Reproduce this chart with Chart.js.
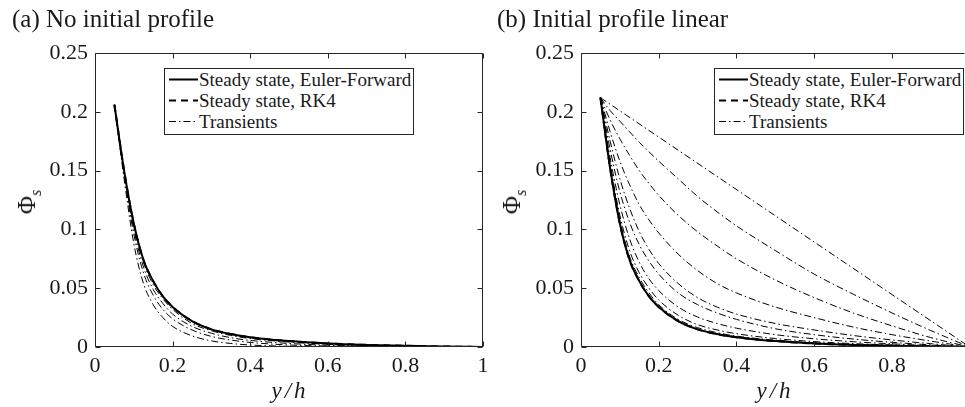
<!DOCTYPE html>
<html>
<head>
<meta charset="utf-8">
<script src="https://cdn.jsdelivr.net/npm/chart.js@4.4.1/dist/chart.umd.min.js"></script>
<style>
body { margin: 0; background: #fff; }
#page { position: relative; width: 965px; height: 407px; overflow: hidden; font-family: "Liberation Serif", serif; color: #1a1a1a; }
canvas { position: absolute; top: 0; }
.title { position: absolute; top: 6px; font-size: 25px; line-height: 25px; white-space: nowrap; }
.ylab { position: absolute; font-size: 25px; line-height: 1; white-space: nowrap; transform: translate(-50%, -50%) rotate(-90deg); }
.ylab sub { font-size: 16px; font-style: italic; }
.xlab { position: absolute; top: 379px; font-size: 23px; line-height: 23px; font-style: italic; letter-spacing: 3px; white-space: nowrap; transform: translateX(-50%); }
.legend { position: absolute; top: 68px; width: 250px; height: 67px; box-sizing: border-box; border: 1px solid #262626; background: #fff; }
.legend .row { position: absolute; left: 0; height: 21px; font-size: 19px; line-height: 21px; white-space: nowrap; }
.legend svg { position: absolute; left: 3px; top: 0; }
.legend span { position: absolute; left: 34px; top: 0; }
</style>
</head>
<body>
<div id="page">
  <canvas id="chartA" width="510" height="407" style="left:0"></canvas>
  <canvas id="chartB" width="480" height="407" style="left:485px"></canvas>

  <div class="title" style="left:12px">(a) No initial profile</div>
  <div class="title" style="left:497px">(b) Initial profile linear</div>

  <div class="ylab" style="left:29px;top:202px">Φ<sub>s</sub></div>
  <div class="ylab" style="left:514px;top:202px">Φ<sub>s</sub></div>
  <div class="xlab" style="left:290px">y/h</div>
  <div class="xlab" style="left:775px">y/h</div>

  <div class="legend" style="left:164px">
    <div class="row" style="top:0"><svg width="31" height="21"><line x1="1" y1="10.5" x2="30" y2="10.5" stroke="#000" stroke-width="2"/></svg><span>Steady state, Euler-Forward</span></div>
    <div class="row" style="top:21px"><svg width="31" height="21"><line x1="1" y1="10.5" x2="30" y2="10.5" stroke="#000" stroke-width="2" stroke-dasharray="7 5"/></svg><span>Steady state, RK4</span></div>
    <div class="row" style="top:42px"><svg width="31" height="21"><line x1="1" y1="10.5" x2="30" y2="10.5" stroke="#000" stroke-width="1" stroke-dasharray="7 3 1.5 3"/></svg><span>Transients</span></div>
  </div>
  <div class="legend" style="left:714px">
    <div class="row" style="top:0"><svg width="31" height="21"><line x1="1" y1="10.5" x2="30" y2="10.5" stroke="#000" stroke-width="2"/></svg><span>Steady state, Euler-Forward</span></div>
    <div class="row" style="top:21px"><svg width="31" height="21"><line x1="1" y1="10.5" x2="30" y2="10.5" stroke="#000" stroke-width="2" stroke-dasharray="7 5"/></svg><span>Steady state, RK4</span></div>
    <div class="row" style="top:42px"><svg width="31" height="21"><line x1="1" y1="10.5" x2="30" y2="10.5" stroke="#000" stroke-width="1" stroke-dasharray="7 3 1.5 3"/></svg><span>Transients</span></div>
  </div>
</div>

<script>
// tick positions and labels
const xTicksA = [0, 0.2, 0.4, 0.6, 0.8, 1];
const xTickLabelsA = ['0', '0.2', '0.4', '0.6', '0.8', '1'];
const xTicksB = [0, 0.2, 0.4, 0.6, 0.8];
const xTickLabelsB = ['0', '0.2', '0.4', '0.6', '0.8'];
const yTicks = [0, 0.05, 0.1, 0.15, 0.2, 0.25];
const yTickLabels = ['0', '0.05', '0.1', '0.15', '0.2', '0.25'];

// y/h sample points shared by the curves
const yh = [0.05, 0.075, 0.1, 0.125, 0.15, 0.175, 0.2, 0.25, 0.3, 0.35, 0.4, 0.5, 0.6, 0.7, 0.8, 0.9, 1];
const yhEnds = [0.05, 1];

// (a) no initial profile
const eulerA = [0.206, 0.15, 0.105, 0.074, 0.056, 0.043, 0.034, 0.022, 0.015, 0.011, 0.0083, 0.005, 0.003, 0.0018, 0.001, 0.0004, 0];
const rk4A   = [0.206, 0.15, 0.105, 0.074, 0.056, 0.043, 0.034, 0.022, 0.015, 0.011, 0.0083, 0.005, 0.003, 0.0018, 0.001, 0.0004, 0];
const transA0 = [0, 0];
const transA1 = [0.206, 0.143, 0.088, 0.054, 0.036, 0.025, 0.0175, 0.0095, 0.0052, 0.003, 0.0017, 0.0006, 0.0002, 0.0001, 0, 0, 0];
const transA2 = [0.206, 0.146, 0.096, 0.063, 0.044, 0.032, 0.024, 0.0145, 0.009, 0.0059, 0.0039, 0.0017, 0.0008, 0.0003, 0.0001, 0, 0];
const transA3 = [0.206, 0.148, 0.1, 0.068, 0.049, 0.037, 0.028, 0.0175, 0.0117, 0.0079, 0.0056, 0.003, 0.0015, 0.0007, 0.0003, 0.0001, 0];
const transA4 = [0.206, 0.149, 0.103, 0.072, 0.053, 0.041, 0.032, 0.02, 0.0138, 0.0098, 0.0072, 0.0042, 0.0023, 0.0013, 0.0007, 0.0003, 0];

// (b) initial profile linear
const eulerB = [0.212, 0.152, 0.105, 0.074, 0.056, 0.043, 0.034, 0.022, 0.015, 0.011, 0.0083, 0.005, 0.003, 0.0018, 0.001, 0.0004, 0];
const rk4B   = [0.212, 0.152, 0.105, 0.074, 0.056, 0.043, 0.034, 0.022, 0.015, 0.011, 0.0083, 0.005, 0.003, 0.0018, 0.001, 0.0004, 0];
const transB1 = [0.212, 0];
const transB2 = [0.212, 0.201, 0.192, 0.183, 0.174, 0.166, 0.158, 0.143, 0.128, 0.115, 0.103, 0.082, 0.062, 0.045, 0.029, 0.014, 0];
const transB3 = [0.212, 0.193, 0.177, 0.163, 0.15, 0.139, 0.129, 0.112, 0.098, 0.086, 0.075, 0.057, 0.042, 0.029, 0.018, 0.008, 0];
const transB4 = [0.212, 0.183, 0.158, 0.138, 0.121, 0.108, 0.097, 0.079, 0.065, 0.054, 0.046, 0.034, 0.025, 0.017, 0.0105, 0.005, 0];
const transB5 = [0.212, 0.175, 0.143, 0.118, 0.098, 0.083, 0.071, 0.054, 0.042, 0.034, 0.028, 0.02, 0.0145, 0.0098, 0.006, 0.0028, 0];
const transB6 = [0.212, 0.168, 0.132, 0.106, 0.087, 0.073, 0.062, 0.046, 0.036, 0.029, 0.0235, 0.0155, 0.0105, 0.0068, 0.004, 0.0018, 0];
const transB7 = [0.212, 0.161, 0.121, 0.092, 0.072, 0.058, 0.048, 0.034, 0.0255, 0.02, 0.016, 0.0105, 0.007, 0.0045, 0.0027, 0.0012, 0];
const transB8 = [0.212, 0.156, 0.112, 0.082, 0.063, 0.05, 0.04, 0.027, 0.019, 0.0145, 0.0113, 0.0072, 0.0046, 0.0029, 0.0017, 0.0007, 0];
const transB9 = [0.212, 0.154, 0.108, 0.077, 0.059, 0.046, 0.036, 0.0235, 0.0165, 0.0122, 0.0093, 0.0058, 0.0036, 0.0022, 0.0012, 0.0005, 0];

const INK = '#1a1a1a';
const FRAME = '#262626';
const SERIF = '"Liberation Serif", "DejaVu Serif", serif';

function line(xs, ys, kind) {
    const ds = {
        data: xs.map((x, i) => ({ x: x, y: ys[i] })),
        borderColor: '#000',
        pointRadius: 0,
        fill: false,
        cubicInterpolationMode: 'monotone'
    };
    if (kind === 'solid') {
        ds.borderWidth = 2;
    } else if (kind === 'dash') {
        ds.borderWidth = 2;
        ds.borderDash = [7, 5];
    } else {
        ds.borderWidth = 1;
        ds.borderDash = [7, 3, 1.5, 3];
    }
    return ds;
}

// box round the axes with inward ticks, MATLAB style
const framePlugin = {
    id: 'frame',
    afterDraw(chart, args, opts) {
        const { ctx, chartArea: a, scales: { x, y } } = chart;
        const L = Math.round(a.left) + 0.5, R = Math.round(a.right) - 0.5;
        const T = Math.round(a.top) + 0.5, B = Math.round(a.bottom) - 0.5;
        ctx.save();
        ctx.strokeStyle = FRAME;
        ctx.lineWidth = 1;
        ctx.beginPath();
        ctx.moveTo(L, T); ctx.lineTo(L, B); ctx.lineTo(R, B);
        ctx.moveTo(L, T); ctx.lineTo(R, T);
        if (opts.right) { ctx.moveTo(R, T); ctx.lineTo(R, B); }
        x.ticks.forEach(t => {
            const px = Math.round(x.getPixelForValue(t.value)) + 0.5;
            ctx.moveTo(px, B); ctx.lineTo(px, B - 5);
            ctx.moveTo(px, T); ctx.lineTo(px, T + 5);
        });
        y.ticks.forEach(t => {
            const py = Math.round(y.getPixelForValue(t.value)) + 0.5;
            ctx.moveTo(L, py); ctx.lineTo(L + 5, py);
            if (opts.right) { ctx.moveTo(R, py); ctx.lineTo(R - 5, py); }
        });
        ctx.stroke();
        ctx.restore();
    }
};

function makeOptions(xMax, xTicks, xLabels, yWidth, padRight, rightEdge) {
    const tickFont = { family: SERIF, size: 22 };
    return {
        responsive: false,
        animation: false,
        layout: { padding: { left: 0, top: 53, right: padRight, bottom: 0 } },
        plugins: {
            legend: { display: false },
            tooltip: { enabled: false },
            frame: { right: rightEdge }
        },
        scales: {
            x: {
                type: 'linear',
                min: 0,
                max: xMax,
                afterBuildTicks: s => { s.ticks = xTicks.map(v => ({ value: v })); },
                afterFit: s => { s.height = 60; },
                ticks: {
                    font: tickFont, color: INK, padding: 6,
                    maxRotation: 0, autoSkip: false,
                    callback: (v, i) => xLabels[i]
                },
                grid: { display: false, drawTicks: false },
                border: { display: false }
            },
            y: {
                type: 'linear',
                min: 0,
                max: 0.25,
                afterBuildTicks: s => { s.ticks = yTicks.map(v => ({ value: v })); },
                afterFit: s => { s.width = yWidth; },
                ticks: {
                    font: tickFont, color: INK, padding: 7,
                    autoSkip: false,
                    callback: (v, i) => yTickLabels[i]
                },
                grid: { display: false, drawTicks: false },
                border: { display: false }
            }
        }
    };
}

new Chart(document.getElementById('chartA'), {
    type: 'line',
    data: {
        datasets: [
            line(yh, rk4A, 'dash'),
            line(yh, eulerA, 'solid'),
            line(yh, transA4, 'dashdot'),
            line(yh, transA3, 'dashdot'),
            line(yh, transA2, 'dashdot'),
            line(yh, transA1, 'dashdot'),
            line(yhEnds, transA0, 'dashdot')
        ]
    },
    options: makeOptions(1, xTicksA, xTickLabelsA, 95, 27, true),
    plugins: [framePlugin]
});

new Chart(document.getElementById('chartB'), {
    type: 'line',
    data: {
        datasets: [
            line(yh, rk4B, 'dash'),
            line(yh, eulerB, 'solid'),
            line(yh, transB9, 'dashdot'),
            line(yh, transB8, 'dashdot'),
            line(yh, transB7, 'dashdot'),
            line(yh, transB6, 'dashdot'),
            line(yh, transB5, 'dashdot'),
            line(yh, transB4, 'dashdot'),
            line(yh, transB3, 'dashdot'),
            line(yh, transB2, 'dashdot'),
            line(yhEnds, transB1, 'dashdot')
        ]
    },
    options: makeOptions(0.988, xTicksB, xTickLabelsB, 96, 0, false),
    plugins: [framePlugin]
});
</script>
</body>
</html>
